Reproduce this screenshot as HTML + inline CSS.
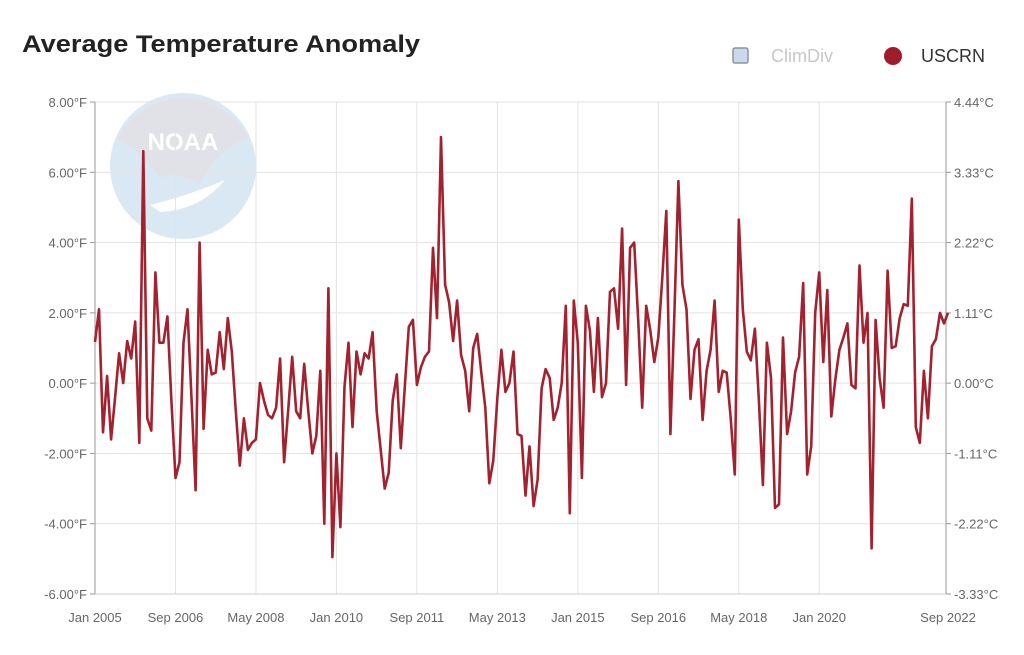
<!DOCTYPE html>
<html><head><meta charset="utf-8"><style>
html,body{margin:0;padding:0;background:#fff;}
svg{display:block;font-family:"Liberation Sans",sans-serif;}
</style></head><body>
<svg id="chart" width="1024" height="655" viewBox="0 0 1024 655">
  <text x="22" y="52" font-size="24" font-weight="bold" fill="#222" textLength="398" lengthAdjust="spacingAndGlyphs">Average Temperature Anomaly</text>
  <g>
    <rect x="733" y="48" width="15" height="15" rx="2" fill="#c9d9ea" stroke="#8a95a0" stroke-width="1.5"/>
    <text x="771" y="62" font-size="18" fill="#c8c8c8">ClimDiv</text>
  </g>
  <g>
    <circle cx="893" cy="56" r="9" fill="#a01c2a"/>
    <text x="921" y="62" font-size="18" fill="#333">USCRN</text>
  </g>
  <g opacity="0.55">
    <circle cx="183" cy="166" r="73" fill="#bcd6ec"/>
    <path d="M118,138 A73,73 0 0 1 248,138 Q215,150 200,185 Q180,170 160,178 Q140,150 118,138Z" fill="#c8ccd4"/>
    <path d="M150,205 Q190,195 225,180 Q200,210 160,212Z" fill="#fff"/>
    <text x="183" y="150" font-size="24" font-weight="bold" fill="#fff" text-anchor="middle">NOAA</text>
  </g>
  <g id="grid"></g>
  <g id="axes"></g>
  <g id="series"></g>
</svg>
<script>
const values = [
1.17,2.1,-1.4,0.2,-1.6,-0.4,0.85,0.0,1.2,0.7,1.75,-1.7,
6.6,-1.0,-1.35,3.15,1.15,1.15,1.9,-0.5,-2.7,-2.25,1.15,2.1,
-0.5,-3.05,4.0,-1.3,0.95,0.25,0.3,1.45,0.4,1.85,0.9,-0.8,
-2.35,-1.0,-1.9,-1.7,-1.6,0.0,-0.5,-0.9,-1.0,-0.7,0.7,-2.25,
-0.8,0.75,-0.8,-1.0,0.55,-0.8,-2.0,-1.5,0.35,-4.0,2.7,-4.95,
-2.0,-4.1,-0.1,1.15,-1.25,0.9,0.25,0.85,0.7,1.45,-0.8,-1.9,
-3.0,-2.55,-0.5,0.25,-1.85,-0.1,1.6,1.8,-0.05,0.45,0.75,0.9,
3.85,1.85,7.0,2.8,2.3,1.2,2.35,0.8,0.35,-0.8,1.0,1.4,
0.3,-0.7,-2.85,-2.2,-0.4,0.95,-0.25,0.0,0.9,-1.45,-1.5,-3.2,
-1.8,-3.5,-2.75,-0.15,0.4,0.15,-1.05,-0.7,0.0,2.2,-3.7,2.35,
1.15,-2.7,2.2,1.5,-0.25,1.85,-0.4,0.0,2.6,2.7,1.55,4.4,
-0.05,3.85,4.0,1.8,-0.7,2.2,1.5,0.6,1.3,3.0,4.9,-1.45,
2.0,5.75,2.8,2.1,-0.45,0.95,1.25,-1.05,0.35,0.95,2.35,-0.25,
0.35,0.3,-1.0,-2.6,4.65,2.1,0.9,0.65,1.55,-0.5,-2.9,1.15,
0.15,-3.55,-3.45,1.3,-1.45,-0.8,0.3,0.75,2.85,-2.6,-1.8,2.0,
3.15,0.6,2.65,-0.95,0.1,0.95,1.3,1.7,-0.05,-0.15,3.35,1.15,
2.0,-4.7,1.8,0.15,-0.7,3.2,1.0,1.05,1.85,2.25,2.2,5.25,
-1.25,-1.7,0.35,-1.0,1.05,1.25,2.0,1.7,2.0
];
const xTickLabels = ["Jan 2005","Sep 2006","May 2008","Jan 2010","Sep 2011","May 2013","Jan 2015","Sep 2016","May 2018","Jan 2020","Sep 2022"];
const xTickMonths = [0,20,40,60,80,100,120,140,160,180,212];
const yTicksF = [8,6,4,2,0,-2,-4,-6];
const yLabelsF = ["8.00°F","6.00°F","4.00°F","2.00°F","0.00°F","-2.00°F","-4.00°F","-6.00°F"];
const yLabelsC = ["4.44°C","3.33°C","2.22°C","1.11°C","0.00°C","-1.11°C","-2.22°C","-3.33°C"];

const X0=95, X1=948, Y0=594, Y1=102, VMIN=-6, VMAX=8;
const xs = i => X0 + i*(X1-X0)/(values.length-1);
const ys = v => Y0 - (v-VMIN)*(Y0-Y1)/(VMAX-VMIN);
const NS="http://www.w3.org/2000/svg";
const grid=document.getElementById('grid'), axes=document.getElementById('axes'), series=document.getElementById('series');
function mk(tag, attrs){const e=document.createElementNS(NS,tag);for(const k in attrs)e.setAttribute(k,attrs[k]);return e;}

yTicksF.forEach((v,k)=>{
  const y=ys(v);
  const g=mk('line',{x1:X0,x2:946,y1:y,y2:y,stroke:'#e3e3e3','stroke-width':1});
  
  
  grid.appendChild(g);
  const t=mk('text',{x:X0-8,y:y+5,'font-size':13,fill:'#666','text-anchor':'end'});
  t.textContent=yLabelsF[k];
  
  
  axes.appendChild(t);
  const t2=mk('text',{x:954,y:y+5,'font-size':13,fill:'#666'});
  t2.textContent=yLabelsC[k];
  
  
  axes.appendChild(t2);
  [[X0-5,X0],[946,951]].forEach(p=>{const tk=mk('line',{x1:p[0],x2:p[1],y1:y,y2:y,stroke:'#999'});
    
    
    axes.appendChild(tk);});
});
xTickMonths.forEach((m,k)=>{
  const x=xs(m);
  if(k>0 && k<xTickMonths.length-1){
    const g=mk('line',{x1:x,x2:x,y1:Y1,y2:Y0,stroke:'#e3e3e3','stroke-width':1});
    
    
    grid.appendChild(g);
  }
  const t=mk('text',{x:x,y:622,'font-size':13,fill:'#666','text-anchor':'middle'});
  t.textContent=xTickLabels[k];
  
  
  axes.appendChild(t);
});
const la=mk('line',{x1:X0,x2:X0,y1:Y1,y2:Y0,stroke:'#999'});


axes.appendChild(la);
const ra=mk('line',{x1:946,x2:946,y1:Y1,y2:Y0,stroke:'#999'});


axes.appendChild(ra);
const ba=mk('line',{x1:X0,x2:946,y1:Y0,y2:Y0,stroke:'#ccc'});


axes.appendChild(ba);

const d=values.map((v,i)=>(i?'L':'M')+xs(i).toFixed(1)+','+ys(v).toFixed(1)).join(' ');
const path=mk('path',{d:d,fill:'none',stroke:'#a3222f','stroke-width':2.6,'stroke-linejoin':'round'});


series.appendChild(path);
</script>
</body></html>
